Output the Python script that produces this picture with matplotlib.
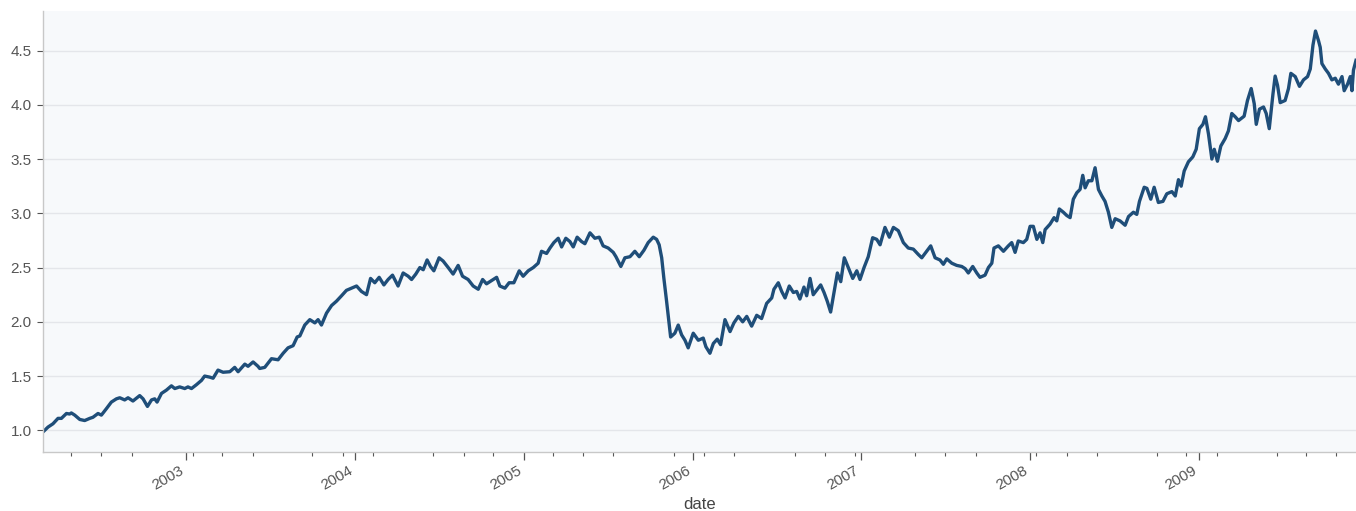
import numpy as np
import pandas as pd
import matplotlib
matplotlib.use("Agg")
import matplotlib.pyplot as plt
import matplotlib.dates as mdates
from matplotlib.ticker import FixedLocator

# Series (time as decimal year, value)
t_years = [
    2002.150, 2002.180, 2002.209, 2002.239, 2002.259, 2002.289, 2002.308, 2002.318, 2002.338, 2002.368,
    2002.397, 2002.427, 2002.446, 2002.476, 2002.496, 2002.526, 2002.555, 2002.585, 2002.605, 2002.634,
    2002.654, 2002.683, 2002.723, 2002.743, 2002.769, 2002.793, 2002.812, 2002.826, 2002.852, 2002.881,
    2002.911, 2002.931, 2002.960, 2002.990, 2003.009, 2003.030, 2003.059, 2003.089, 2003.108, 2003.138,
    2003.158, 2003.187, 2003.217, 2003.257, 2003.286, 2003.306, 2003.346, 2003.365, 2003.395, 2003.424,
    2003.434, 2003.464, 2003.504, 2003.543, 2003.573, 2003.602, 2003.632, 2003.656, 2003.672, 2003.701,
    2003.731, 2003.761, 2003.780, 2003.800, 2003.830, 2003.860, 2003.889, 2003.919, 2003.948, 2003.978,
    2004.008, 2004.037, 2004.067, 2004.091, 2004.116, 2004.142, 2004.170, 2004.195, 2004.221, 2004.254,
    2004.284, 2004.314, 2004.334, 2004.359, 2004.383, 2004.403, 2004.426, 2004.446, 2004.466, 2004.497,
    2004.521, 2004.551, 2004.580, 2004.610, 2004.636, 2004.669, 2004.699, 2004.729, 2004.755, 2004.778,
    2004.808, 2004.838, 2004.857, 2004.887, 2004.912, 2004.940, 2004.972, 2004.995, 2005.025, 2005.055,
    2005.084, 2005.104, 2005.134, 2005.154, 2005.177, 2005.203, 2005.223, 2005.248, 2005.272, 2005.292,
    2005.315, 2005.341, 2005.361, 2005.391, 2005.420, 2005.446, 2005.469, 2005.499, 2005.529, 2005.545,
    2005.574, 2005.598, 2005.628, 2005.657, 2005.683, 2005.711, 2005.736, 2005.766, 2005.786, 2005.801,
    2005.816, 2005.829, 2005.845, 2005.869, 2005.894, 2005.914, 2005.934, 2005.954, 2005.973, 2006.003,
    2006.033, 2006.062, 2006.078, 2006.102, 2006.122, 2006.145, 2006.165, 2006.191, 2006.221, 2006.244,
    2006.270, 2006.296, 2006.320, 2006.349, 2006.379, 2006.408, 2006.438, 2006.468, 2006.481, 2006.507,
    2006.527, 2006.547, 2006.572, 2006.596, 2006.616, 2006.635, 2006.659, 2006.675, 2006.695, 2006.714,
    2006.738, 2006.758, 2006.778, 2006.797, 2006.817, 2006.837, 2006.857, 2006.877, 2006.898, 2006.922,
    2006.948, 2006.972, 2006.991, 2007.015, 2007.040, 2007.066, 2007.090, 2007.110, 2007.139, 2007.165,
    2007.189, 2007.218, 2007.248, 2007.277, 2007.307, 2007.337, 2007.357, 2007.386, 2007.410, 2007.436,
    2007.465, 2007.485, 2007.505, 2007.535, 2007.564, 2007.594, 2007.614, 2007.633, 2007.659, 2007.683,
    2007.702, 2007.732, 2007.752, 2007.772, 2007.785, 2007.811, 2007.841, 2007.870, 2007.890, 2007.910,
    2007.929, 2007.959, 2007.979, 2007.999, 2008.018, 2008.039, 2008.058, 2008.074, 2008.088, 2008.117,
    2008.141, 2008.157, 2008.172, 2008.196, 2008.216, 2008.236, 2008.255, 2008.276, 2008.295, 2008.311,
    2008.325, 2008.344, 2008.365, 2008.384, 2008.404, 2008.424, 2008.443, 2008.463, 2008.483, 2008.503,
    2008.532, 2008.562, 2008.582, 2008.611, 2008.631, 2008.647, 2008.675, 2008.691, 2008.714, 2008.734,
    2008.759, 2008.786, 2008.809, 2008.839, 2008.859, 2008.878, 2008.894, 2008.912, 2008.937, 2008.963,
    2008.983, 2009.002, 2009.023, 2009.038, 2009.056, 2009.076, 2009.090, 2009.109, 2009.129, 2009.155,
    2009.174, 2009.194, 2009.214, 2009.234, 2009.267, 2009.287, 2009.309, 2009.327, 2009.339, 2009.358,
    2009.382, 2009.398, 2009.416, 2009.438, 2009.451, 2009.465, 2009.481, 2009.510, 2009.530, 2009.544,
    2009.570, 2009.595, 2009.619, 2009.643, 2009.659, 2009.675, 2009.690, 2009.708, 2009.718, 2009.728,
    2009.748, 2009.767, 2009.787, 2009.807, 2009.826, 2009.847, 2009.860, 2009.880, 2009.896, 2009.906,
    2009.915, 2009.930,
]

values = [
    0.985, 1.03, 1.06, 1.11, 1.11, 1.155, 1.15, 1.16, 1.14, 1.10,
    1.09, 1.11, 1.12, 1.155, 1.14, 1.20, 1.26, 1.29, 1.30, 1.28,
    1.30, 1.27, 1.32, 1.29, 1.22, 1.28, 1.29, 1.26, 1.34, 1.37,
    1.41, 1.385, 1.40, 1.385, 1.40, 1.385, 1.42, 1.46, 1.50, 1.49,
    1.48, 1.555, 1.535, 1.54, 1.58, 1.54, 1.61, 1.59, 1.63, 1.59,
    1.57, 1.58, 1.66, 1.65, 1.71, 1.76, 1.78, 1.86, 1.87, 1.97,
    2.02, 1.99, 2.02, 1.97, 2.08, 2.15, 2.19, 2.24, 2.29, 2.31,
    2.33, 2.28, 2.25, 2.40, 2.36, 2.41, 2.34, 2.39, 2.43, 2.33,
    2.45, 2.42, 2.39, 2.44, 2.50, 2.48, 2.57, 2.51, 2.47, 2.59,
    2.56, 2.50, 2.44, 2.52, 2.42, 2.39, 2.33, 2.30, 2.39, 2.35,
    2.38, 2.41, 2.33, 2.31, 2.36, 2.36, 2.47, 2.42, 2.47, 2.50,
    2.54, 2.65, 2.63, 2.68, 2.73, 2.77, 2.69, 2.77, 2.74, 2.69,
    2.78, 2.74, 2.72, 2.82, 2.77, 2.78, 2.70, 2.68, 2.64, 2.60,
    2.51, 2.59, 2.60, 2.65, 2.60, 2.66, 2.73, 2.78, 2.76, 2.71,
    2.59, 2.40, 2.19, 1.86, 1.895, 1.97, 1.88, 1.83, 1.76, 1.895,
    1.83, 1.85, 1.77, 1.71, 1.80, 1.84, 1.79, 2.02, 1.91, 1.99,
    2.05, 2.00, 2.05, 1.96, 2.06, 2.03, 2.17, 2.22, 2.30, 2.36,
    2.28, 2.22, 2.33, 2.27, 2.28, 2.21, 2.32, 2.24, 2.40, 2.25,
    2.30, 2.34, 2.27, 2.19, 2.09, 2.27, 2.45, 2.37, 2.59, 2.50,
    2.40, 2.47, 2.39, 2.50, 2.60, 2.775, 2.76, 2.71, 2.87, 2.78,
    2.87, 2.84, 2.73, 2.68, 2.67, 2.62, 2.59, 2.65, 2.70, 2.59,
    2.57, 2.53, 2.58, 2.54, 2.52, 2.51, 2.49, 2.45, 2.51, 2.45,
    2.41, 2.43, 2.50, 2.54, 2.68, 2.70, 2.65, 2.70, 2.73, 2.64,
    2.745, 2.73, 2.76, 2.88, 2.88, 2.76, 2.82, 2.73, 2.85, 2.90,
    2.96, 2.93, 3.04, 3.01, 2.98, 2.96, 3.13, 3.19, 3.22, 3.35,
    3.235, 3.30, 3.30, 3.42, 3.22, 3.16, 3.11, 3.01, 2.87, 2.95,
    2.93, 2.89, 2.97, 3.01, 2.99, 3.11, 3.24, 3.23, 3.13, 3.24,
    3.10, 3.11, 3.18, 3.20, 3.16, 3.31, 3.25, 3.39, 3.475, 3.52,
    3.59, 3.78, 3.82, 3.89, 3.73, 3.50, 3.59, 3.48, 3.62, 3.69,
    3.76, 3.92, 3.89, 3.855, 3.895, 4.04, 4.15, 4.01, 3.82, 3.96,
    3.98, 3.92, 3.78, 4.10, 4.265, 4.18, 4.02, 4.04, 4.15, 4.29,
    4.26, 4.17, 4.23, 4.26, 4.33, 4.55, 4.68, 4.59, 4.53, 4.38,
    4.33, 4.29, 4.23, 4.245, 4.19, 4.26, 4.13, 4.19, 4.26, 4.13,
    4.32, 4.41,
]

# Axis ticks as seen on the reference
major_years = [2003, 2004, 2005, 2006, 2007, 2008, 2009]
minor_dates = [
    "2002-04-27", "2002-07-01", "2002-09-05", "2003-01-15", "2003-03-20", "2003-05-25",
    "2003-10-01", "2003-12-07", "2004-02-08", "2004-06-18", "2004-08-23", "2004-10-26",
    "2005-03-04", "2005-05-08", "2005-07-13", "2005-11-22", "2006-01-25", "2006-04-01",
    "2006-08-10", "2006-10-14", "2006-12-18", "2007-04-27", "2007-07-01", "2007-09-05",
    "2008-01-13", "2008-03-20", "2008-05-24", "2008-10-01", "2008-12-03", "2009-02-09",
    "2009-06-18", "2009-08-21", "2009-10-25",
]

LINE_COLOR = "#1f4e79"
TEXT_COLOR = "#555555"
SPINE_COLOR = "#c8c8c8"


def years_to_dates(years):
    """Turns decimal years into timestamps."""
    years = np.asarray(years, dtype=float)
    base = pd.Timestamp("2002-01-01")
    return base + pd.to_timedelta((years - 2002.0) * 365.25, unit="D")


def plot_series():
    series = pd.Series(values, index=years_to_dates(t_years))

    plt.rcParams["font.family"] = ["Liberation Sans", "DejaVu Sans"]
    fig = plt.figure(figsize=(13.56, 5.11), dpi=100)
    ax = fig.add_axes([0.0317, 0.1155, 0.9683, 0.8630])
    ax.set_facecolor("#f7f9fb")

    ax.plot(series.index, series.values, color=LINE_COLOR, linewidth=2.4,
            solid_joinstyle="round")
    ax.set_xlim(series.index[0], series.index[-1])
    ax.margins(y=0.05)

    # Grid and spines
    ax.set_axisbelow(True)
    ax.yaxis.grid(True, color="#e4e6ea", linewidth=1.0)
    ax.xaxis.grid(False)
    for side in ["top", "right"]:
        ax.spines[side].set_visible(False)
    for side in ["left", "bottom"]:
        ax.spines[side].set_color(SPINE_COLOR)
        ax.spines[side].set_linewidth(1.0)

    # Y ticks
    ax.set_yticks([1.0, 1.5, 2.0, 2.5, 3.0, 3.5, 4.0, 4.5])
    ax.yaxis.set_major_formatter(matplotlib.ticker.FormatStrFormatter("%.1f"))
    ax.tick_params(axis="y", colors=TEXT_COLOR, labelsize=11, length=4, width=0.8, pad=4)

    # X ticks: years as majors, irregular minors
    majors = [mdates.date2num(pd.Timestamp(f"{y}-01-01")) for y in major_years]
    minors = [mdates.date2num(pd.Timestamp(d)) for d in minor_dates]
    ax.xaxis.set_major_locator(FixedLocator(majors))
    ax.xaxis.set_minor_locator(FixedLocator(minors))
    ax.set_xticklabels([str(y) for y in major_years])
    ax.tick_params(axis="x", which="major", colors=TEXT_COLOR, labelsize=11, length=6, width=0.9, pad=2)
    ax.tick_params(axis="x", which="minor", colors=TEXT_COLOR, length=3, width=0.8)
    for label in ax.get_xticklabels():
        label.set_rotation(30)
        label.set_ha("right")

    ax.set_xlabel("date", color="#444444", fontsize=12, labelpad=3.5)

    fig.savefig("out.png", dpi=100)


if __name__ == "__main__":
    plot_series()
